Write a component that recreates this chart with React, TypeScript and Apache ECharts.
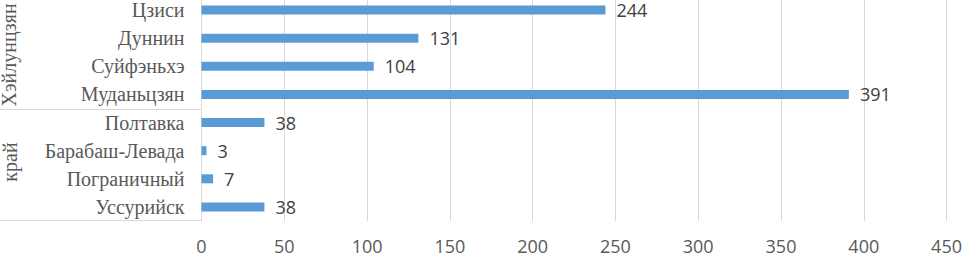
import React, { useEffect, useRef } from "react";
import * as echarts from "echarts";

const categories = [
  "Цзиси",
  "Дуннин",
  "Суйфэньхэ",
  "Муданьцзян",
  "Полтавка",
  "Барабаш-Левада",
  "Пограничный",
  "Уссурийск",
];
const values = [244, 131, 104, 391, 38, 3, 7, 38];
const groupLabels = ["Хэйлунцзян", "край"];
const groupSplitIndex = 4; // first index of the second group

const OFFSET = 30; // chart is shifted up; top part cut off as in the reference
const SERIF = "Liberation Serif";
const SERIF_SIZE = 20;

export default function App() {
  const ref = useRef<HTMLDivElement>(null);
  useEffect(() => {
    if (!ref.current) return;
    const chart = echarts.init(ref.current, null, { renderer: "svg" });
    chart.setOption({
      animation: false,
      grid: { left: 201.5, right: 17, top: OFFSET - 4, bottom: 285 - (OFFSET + 221), containLabel: false },
      xAxis: {
        type: "value",
        min: 0,
        max: 450,
        interval: 50,
        axisLine: { show: false },
        axisTick: { show: false },
        splitLine: { show: true, lineStyle: { color: "#d9d9d9", width: 1 } },
        axisLabel: {
          margin: 18,
          fontFamily: "Open Sans",
          fontSize: 18,
          lineHeight: 14,
          color: "#595959",
        },
      },
      yAxis: {
        type: "category",
        inverse: true,
        data: categories,
        axisLine: { show: false },
        axisTick: { show: false },
        splitLine: { show: false },
        axisLabel: { margin: 17, fontFamily: SERIF, fontSize: SERIF_SIZE, color: "#595959" },
      },
      series: [
        {
          type: "bar",
          data: values,
          barWidth: 9,
          itemStyle: { color: "#5B9BD5" },
          label: {
            show: true,
            position: "right",
            distance: 11,
            fontFamily: "Open Sans",
            fontSize: 18,
            color: "#404040",
          },
        },
      ],
    });

    const ax = chart.convertToPixel({ xAxisIndex: 0 }, 0) as number;
    const yA = chart.convertToPixel({ yAxisIndex: 0 }, groupSplitIndex - 1) as number;
    const yB = chart.convertToPixel({ yAxisIndex: 0 }, groupSplitIndex) as number;
    const band = yB - yA;
    const sepY = Math.round((yA + yB) / 2) + 0.5;
    const last = chart.convertToPixel({ yAxisIndex: 0 }, categories.length - 1) as number;
    const botY = Math.round(last + band / 2) - 0.5;
    const vx = Math.round(ax) - 0.5;
    const lineStyle = { stroke: "#d9d9d9", lineWidth: 1 };

    chart.setOption({
      graphic: [
        { type: "line", shape: { x1: vx, y1: 0, x2: vx, y2: botY }, style: lineStyle, silent: true },
        { type: "line", shape: { x1: 0, y1: sepY, x2: vx, y2: sepY }, style: lineStyle, silent: true },
        { type: "line", shape: { x1: 0, y1: botY, x2: vx, y2: botY }, style: lineStyle, silent: true },
        {
          type: "text",
          x: 9,
          y: sepY - 3,
          rotation: Math.PI / 2,
          style: {
            text: groupLabels[0],
            fontFamily: SERIF,
            fontSize: SERIF_SIZE,
            fill: "#595959",
            align: "left",
            verticalAlign: "middle",
          },
        },
        {
          type: "text",
          x: 10,
          y: (sepY + botY) / 2 - 3,
          rotation: Math.PI / 2,
          style: {
            text: groupLabels[1],
            fontFamily: SERIF,
            fontSize: SERIF_SIZE,
            fill: "#595959",
            align: "center",
            verticalAlign: "middle",
          },
        },
      ],
    });

    return () => chart.dispose();
  }, []);
  return (
    <div
      ref={ref}
      style={{ position: "absolute", left: 0, top: -OFFSET, width: 965, height: 285, background: "#fff" }}
    />
  );
}
